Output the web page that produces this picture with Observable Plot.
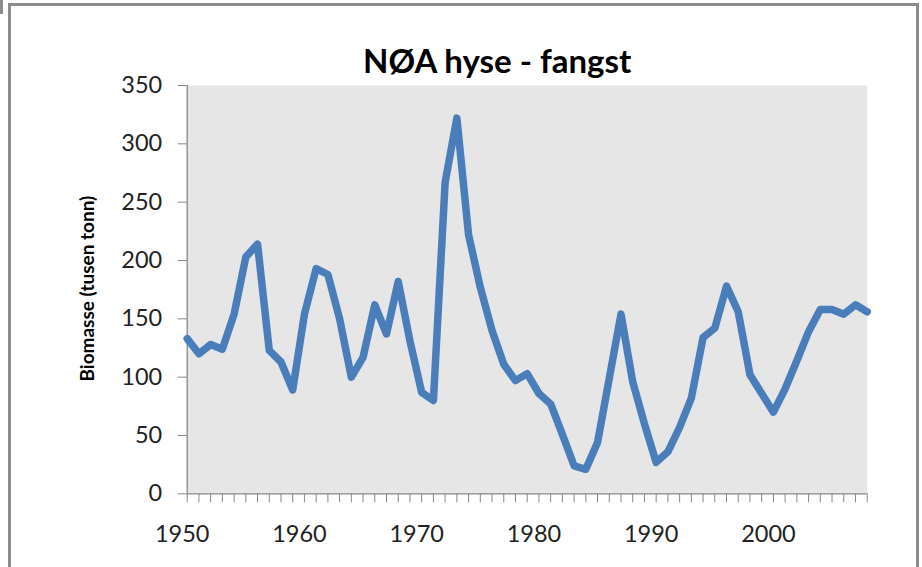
<!DOCTYPE html>
<html>
<head>
<meta charset="utf-8">
<script src="https://cdn.jsdelivr.net/npm/d3@7"></script>
<script src="https://cdn.jsdelivr.net/npm/@observablehq/plot@0.6"></script>
<style>
  body { margin: 0; background: #ffffff; }
  #wrap { position: relative; width: 922px; height: 567px; overflow: hidden; }
  .border { position: absolute; background: #8c8c8c; }
  svg { font-family: Lato, "Open Sans", sans-serif; }
</style>
</head>
<body>
<div id="wrap">
  <div class="border" style="left:8px; top:3px; width:3px; height:564px;"></div>
  <div class="border" style="left:8px; top:3px; width:911px; height:3px;"></div>
  <div class="border" style="left:916px; top:3px; width:3px; height:564px;"></div>
  <div class="border" style="left:0px; top:0px; width:3px; height:14px;"></div>
</div>
<script>
const title = "NØA hyse - fangst";
const yLabel = "Biomasse (tusen tonn)";
const years = [1950,1951,1952,1953,1954,1955,1956,1957,1958,1959,
               1960,1961,1962,1963,1964,1965,1966,1967,1968,1969,
               1970,1971,1972,1973,1974,1975,1976,1977,1978,1979,
               1980,1981,1982,1983,1984,1985,1986,1987,1988,1989,
               1990,1991,1992,1993,1994,1995,1996,1997,1998,1999,
               2000,2001,2002,2003,2004,2005,2006,2007,2008];
const catch_ = [133,120,128,124,154,203,214,123,113,89,
                154,193,188,150,100,117,162,137,182,131,
                87,80,267,322,222,177,140,111,97,103,
                86,77,51,24,21,44,99,154,96,60,
                27,36,57,82,134,142,178,156,102,86,
                70,90,114,139,158,158,154,162,156];
const xTickLabels = [1950,1960,1970,1980,1990,2000];
const yTicks = [0,50,100,150,200,250,300,350];

const data = years.map((y, i) => ({year: y, value: catch_[i]}));
const axisColor = "#868686";

const chart = Plot.plot({
  width: 922,
  height: 567,
  marginLeft: 186.7,
  marginRight: 55.3,
  marginTop: 85,
  marginBottom: 73.7,
  style: {background: "transparent", fontFamily: "Lato, 'Open Sans', sans-serif"},
  x: {domain: [1950, 2008]},
  y: {domain: [0, 350]},
  marks: [
    Plot.frame({fill: "#e6e6e6", stroke: null}),
    Plot.axisY({ticks: yTicks, tickSize: 9, tickPadding: 16, stroke: axisColor, fill: "#222", fontSize: 23.5, label: null, tickFormat: d => d}),
    Plot.axisX({ticks: years, tickSize: 9, tickFormat: () => "", stroke: axisColor, label: null}),
    Plot.axisX({ticks: xTickLabels, tickSize: 0, tickPadding: 32, dx: -5, fill: "#222", fontSize: 23.5, label: null, tickFormat: d => String(d)}),
    Plot.ruleY([0], {stroke: axisColor, strokeWidth: 1.3}),
    Plot.ruleX([1950], {stroke: axisColor, strokeWidth: 1.3}),
    Plot.ruleY([0], {x1: 1950, x2: 1950, stroke: axisColor, dx: -9, strokeWidth: 1.3}),
    Plot.line(data, {x: "year", y: "value", stroke: "#4a7ebb", strokeWidth: 7.5, strokeLinejoin: "round", strokeLinecap: "round"}),
    Plot.text([title], {frameAnchor: "top-left", dx: 310, dy: -36, textAnchor: "middle", fontSize: 33, fontWeight: "bold", fill: "#000"}),
    Plot.text([yLabel], {frameAnchor: "left", dx: -99, dy: -1, rotate: -90, textAnchor: "middle", fontSize: 19, fontWeight: "bold", fill: "#000"})
  ]
});
document.getElementById("wrap").appendChild(chart);
chart.style.position = "absolute";
chart.style.left = "0px";
chart.style.top = "0px";
</script>
</body>
</html>
